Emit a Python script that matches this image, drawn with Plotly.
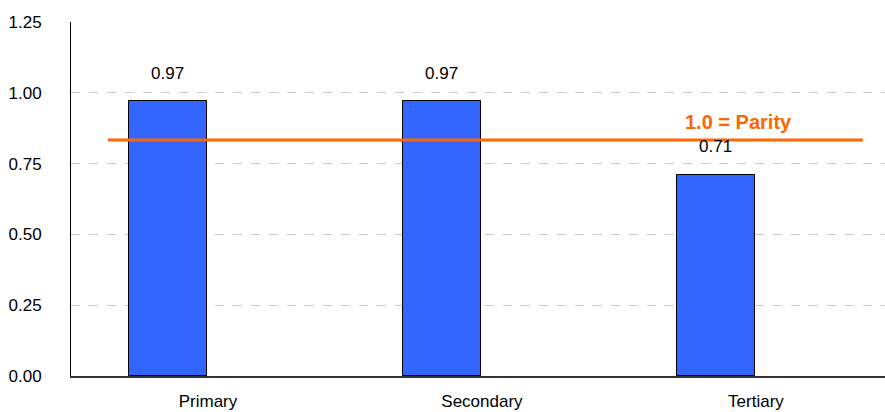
import plotly.graph_objects as go

categories = ["Primary", "Secondary", "Tertiary"]
values = [0.97, 0.97, 0.71]
value_labels = ["0.97", "0.97", "0.71"]
parity_value = 0.833
parity_label = "1.0 = Parity"
y_ticks = [0.0, 0.25, 0.5, 0.75, 1.0, 1.25]
y_tick_labels = ["0.00", "0.25", "0.50", "0.75", "1.00", "1.25"]

font = "Liberation Sans, Arial, sans-serif"

fig = go.Figure()
fig.add_trace(go.Bar(
    x=categories, y=values,
    width=0.285, offset=-0.288,
    marker=dict(color="#3366FF", line=dict(color="#000000", width=1)),
    textposition="none", hoverinfo="skip",
))
for c, v, t in zip(categories, values, value_labels):
    fig.add_annotation(x=c, y=v, text=t, showarrow=False, xref="x", yref="y",
                       xshift=-0.146 * 274, yshift=28, font=dict(family=font, size=17, color="#000"))

fig.add_shape(type="line", xref="x", yref="y", x0=-0.365, x1=2.39,
              y0=parity_value, y1=parity_value, line=dict(color="#FF6600", width=3))
fig.add_annotation(x=1.935, y=parity_value, xref="x", yref="y", text="<b>" + parity_label + "</b>",
                   showarrow=False, yshift=18, font=dict(family=font, size=20, color="#FF6600"))

fig.update_layout(
    width=885, height=412,
    margin=dict(l=71, r=0, t=22, b=36, autoexpand=False),
    paper_bgcolor="white", plot_bgcolor="white",
    showlegend=False, bargap=0,
    font=dict(family=font, size=17, color="#000"),
)
fig.update_xaxes(range=[-0.5, 2.471], showline=True, linecolor="#333333", linewidth=2,
                 showgrid=False, ticks="", ticklabelstandoff=9, tickfont=dict(size=17),
                 automargin=False)
fig.update_yaxes(range=[0, 1.25], tickvals=y_ticks, ticktext=y_tick_labels,
                 showline=True, linecolor="#000", linewidth=1,
                 showgrid=True, gridcolor="#C8C8C8", griddash="dash", gridwidth=1,
                 zeroline=False, ticks="", ticklabelstandoff=25, tickfont=dict(size=17),
                 automargin=False)

fig.write_html("out.html")
